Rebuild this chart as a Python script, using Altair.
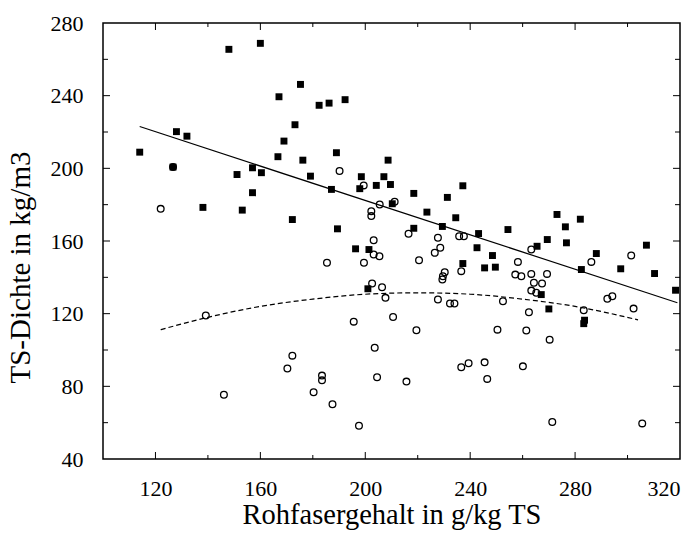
import altair as alt
import pandas as pd

# ---- data ----
sq_x = [114.0, 126.7, 128.0, 132.0, 138.1, 148.0, 151.1, 153.1, 157.0, 157.0,
        160.4, 160.0, 166.7, 167.1, 169.0, 172.2, 173.2, 175.3, 176.2, 179.1,
        182.4, 186.2, 187.1, 189.0, 189.4, 192.3, 196.3, 197.9, 198.5, 201.0,
        201.4, 204.2, 207.1, 208.7, 209.6, 210.3, 218.5, 218.5, 223.5, 229.4,
        231.3, 234.5, 237.2, 237.2, 242.6, 243.2, 245.5, 248.5, 249.6, 254.4,
        265.5, 267.1, 269.4, 270.0, 273.1, 276.3, 276.7, 282.0, 282.4, 283.6,
        283.3, 288.1, 297.4, 307.2, 310.3, 318.3]
sq_y = [208.9, 200.7, 220.2, 217.7, 178.5, 265.5, 196.6, 177.0, 200.3, 186.6,
        197.6, 268.8, 206.4, 239.4, 215.0, 171.8, 224.0, 246.2, 204.5, 195.7,
        234.7, 235.9, 188.4, 208.6, 166.7, 237.8, 155.7, 188.8, 195.4, 133.7,
        155.3, 190.6, 195.4, 204.5, 191.1, 180.5, 186.2, 167.0, 175.9, 168.0,
        184.0, 172.8, 147.6, 190.4, 156.3, 164.1, 145.2, 152.0, 145.6, 166.3,
        157.1, 130.5, 160.8, 122.6, 174.6, 167.8, 159.0, 172.0, 144.3, 116.4,
        114.5, 153.1, 144.7, 157.7, 142.1, 132.9]

ci_x = [122.0, 126.7, 139.2, 146.1, 170.3, 172.2, 180.3, 183.5, 183.5, 185.4,
        187.5, 190.2, 195.6, 197.6, 199.4, 199.5, 202.3, 202.3, 202.6, 203.2,
        203.2, 203.6, 204.5, 205.4, 205.5, 206.4, 207.7, 210.6, 211.2, 215.7,
        216.5, 219.5, 220.5, 226.5, 227.7, 227.7, 228.6, 229.4, 229.6, 230.3,
        232.3, 234.0, 235.8, 237.6, 236.6, 236.6, 239.4, 245.5, 246.5, 250.4,
        252.5, 257.2, 258.2, 259.5, 260.1, 261.4, 262.4, 263.3, 263.3, 263.3,
        264.3, 265.2, 267.4, 269.3, 270.3, 271.3, 283.3, 286.2, 292.3, 294.2,
        301.4, 302.3, 305.6]
ci_y = [177.7, 200.7, 119.0, 75.4, 89.8, 96.9, 76.7, 85.9, 83.3, 148.0,
        70.1, 198.5, 115.6, 58.3, 190.6, 148.0, 176.4, 173.7, 136.6, 160.4,
        152.6, 101.2, 85.0, 151.6, 180.1, 134.5, 128.7, 118.2, 181.6, 82.6,
        164.0, 110.9, 149.4, 153.5, 161.8, 127.8, 156.3, 138.8, 140.6, 142.8,
        125.6, 125.6, 162.6, 162.6, 143.4, 90.5, 92.7, 93.2, 84.1, 111.2,
        126.8, 141.5, 148.5, 140.6, 91.0, 110.7, 120.8, 155.3, 141.9, 132.7,
        137.0, 131.5, 136.6, 141.9, 105.7, 60.4, 121.9, 148.5, 128.2, 129.6,
        152.0, 122.8, 59.6]

fit_x = [114, 319]
fit_y = [223, 126]
curve_x = [122, 140, 160, 180, 200, 220, 240, 260, 280, 304]
curve_y = [111.2, 118.0, 124.0, 128.0, 130.7, 131.5, 130.7, 128.0, 124.0, 116.6]

x_labels = [120, 160, 200, 240, 280, 320]
x_minor = [140, 180, 220, 260, 300]
x_major_ticks = [120, 160, 200, 240, 280]
y_labels = [40, 80, 120, 160, 200, 240, 280]
y_major_ticks = [80, 120, 160, 200, 240]
y_minor = [60, 100, 140, 180, 220, 260]

W, H = 577, 436
FONT = "Liberation Serif"

xs = alt.Scale(domain=[100, 320], nice=False, zero=False)
ys = alt.Scale(domain=[40, 280], nice=False, zero=False)

x_axis = alt.Axis(
    values=x_labels, title="Rohfasergehalt in g/kg TS", grid=False,
    ticks=False, domain=False, labelPadding=19, labelFontSize=22,
    titleFontSize=28.5, titleFontWeight="normal", titleY=64,
    titleBaseline="alphabetic")
y_axis = alt.Axis(
    values=y_labels, title="TS-Dichte in kg/m3", grid=False,
    ticks=False, domain=False, labelPadding=20, labelFontSize=22,
    titleFontSize=29, titleFontWeight="normal", titleX=-83, titleY=244,
    titleBaseline="middle")


def X():
    return alt.X("x:Q", scale=xs, axis=x_axis)


def Y():
    return alt.Y("y:Q", scale=ys, axis=y_axis)


sq_df = pd.DataFrame({"x": sq_x, "y": sq_y})
ci_df = pd.DataFrame({"x": ci_x, "y": ci_y})
fit_df = pd.DataFrame({"x": fit_x, "y": fit_y})
cur_df = pd.DataFrame({"x": curve_x, "y": curve_y})

squares = alt.Chart(sq_df).mark_point(
    shape="square", filled=True, color="black", size=48, opacity=1
).encode(x=X(), y=Y())

circles = alt.Chart(ci_df).mark_point(
    shape="circle", filled=False, color="black", size=45, strokeWidth=1.3, opacity=1
).encode(x=X(), y=Y())

fit_line = alt.Chart(fit_df).mark_line(color="black", strokeWidth=1.2).encode(x=X(), y=Y())

curve = alt.Chart(cur_df).mark_line(
    color="black", strokeWidth=1.2, strokeDash=[5, 3], interpolate="monotone"
).encode(x=X(), y=Y())


def xticks(vals, length):
    d = pd.DataFrame({"x": vals})
    b = alt.Chart(d).mark_rule(color="black", strokeWidth=1).encode(
        x=X(), y=alt.value(H), y2=alt.value(H - length))
    t = alt.Chart(d).mark_rule(color="black", strokeWidth=1).encode(
        x=X(), y=alt.value(0), y2=alt.value(length))
    return [b, t]


def yticks(vals, length):
    d = pd.DataFrame({"y": vals})
    l = alt.Chart(d).mark_rule(color="black", strokeWidth=1).encode(
        y=Y(), x=alt.value(0), x2=alt.value(length))
    r = alt.Chart(d).mark_rule(color="black", strokeWidth=1).encode(
        y=Y(), x=alt.value(W), x2=alt.value(W - length))
    return [l, r]


tick_layers = (xticks(x_major_ticks, 7) + xticks(x_minor, 4)
               + yticks(y_major_ticks, 7) + yticks(y_minor, 5))

chart = alt.layer(
    squares, circles, fit_line, curve, *tick_layers
).properties(
    width=W, height=H,
    autosize=alt.AutoSizeParams(type="none"),
    padding={"left": 103, "top": 23, "right": 20, "bottom": 74},
    background="white",
).configure_view(
    stroke="black", strokeWidth=1.5
).configure_axis(
    labelFont=FONT, titleFont=FONT, labelColor="black", titleColor="black"
)

chart.save("out.html", embed_options={"renderer": "svg", "actions": False})
